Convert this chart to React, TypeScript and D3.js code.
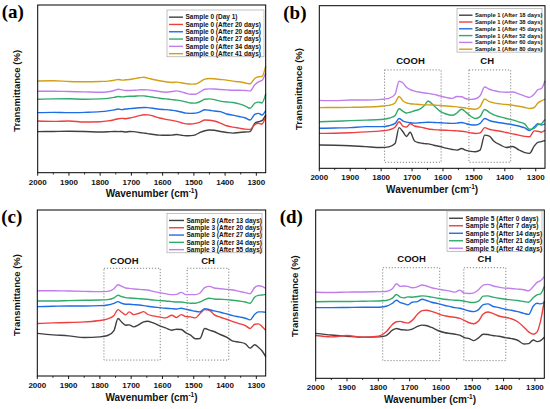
import React from 'react';
import * as d3 from 'd3';

// wavenumber grid shared by every spectrum (cm-1)
const wavenumbers = [
  2000, 1950, 1900, 1850, 1800, 1775, 1755, 1742, 1730, 1718,
  1706, 1692, 1675, 1660, 1648, 1630, 1610, 1590, 1570, 1555,
  1540, 1525, 1510, 1495, 1480, 1465, 1450, 1435, 1415, 1395,
  1375, 1355, 1335, 1320, 1305, 1293, 1282, 1270,
];

// (a) sample 0 - offset transmittance, arbitrary units
const s0Day1 = [24.5, 24.6, 24.7, 24.6, 24.3, 24.4, 24.6, 24.5, 24.6, 24.3, 24.6, 24.5, 24.0, 23.6, 23.3, 22.8, 22.4, 22.3, 22.4, 22.8, 22.3, 22.0, 22.1, 22.6, 24.0, 25.0, 25.5, 25.3, 24.6, 24.0, 23.6, 24.0, 24.3, 24.5, 29.5, 30.4, 31.0, 34.5];
const s0Day20a = [30.8, 30.6, 30.8, 30.2, 30.4, 30.9, 31.6, 32.2, 32.4, 32.2, 32.6, 33.1, 34.0, 34.6, 34.5, 33.8, 32.6, 31.8, 31.2, 30.6, 29.8, 29.1, 29.0, 29.4, 30.2, 31.4, 31.3, 30.8, 29.6, 28.0, 27.2, 26.6, 26.0, 25.8, 28.6, 29.4, 29.0, 33.5];
const s0Day20b = [35.8, 36.0, 35.8, 36.0, 36.4, 36.9, 37.5, 38.0, 37.6, 38.0, 38.2, 38.4, 38.7, 38.9, 38.8, 38.4, 37.8, 37.6, 37.2, 36.8, 36.2, 35.5, 35.4, 35.5, 36.3, 37.5, 37.2, 36.8, 36.4, 35.0, 34.3, 33.5, 32.6, 31.4, 34.8, 35.4, 34.4, 37.0];
const s0Day27 = [43.8, 44.0, 44.1, 43.8, 44.0, 44.3, 44.9, 45.4, 45.2, 45.4, 45.6, 45.6, 45.8, 45.8, 45.5, 45.0, 44.4, 44.0, 43.6, 43.3, 42.8, 42.2, 41.6, 41.5, 42.4, 43.8, 44.0, 43.6, 42.7, 42.2, 41.9, 41.0, 39.7, 38.4, 41.4, 42.1, 41.6, 47.0];
const s0Day34 = [48.6, 48.6, 48.4, 48.2, 48.0, 48.3, 49.0, 49.8, 49.4, 49.0, 49.0, 49.2, 49.4, 49.5, 49.4, 49.0, 48.4, 48.0, 48.4, 48.8, 48.2, 47.4, 46.8, 46.8, 48.2, 49.8, 50.0, 49.9, 49.6, 49.4, 49.2, 49.2, 49.0, 48.8, 52.4, 54.2, 55.0, 59.5];
const s0Day41 = [54.7, 54.8, 54.4, 54.2, 54.4, 54.6, 55.1, 55.6, 55.2, 55.4, 55.6, 56.0, 56.6, 56.9, 56.4, 55.6, 54.8, 54.2, 53.8, 54.0, 53.6, 53.1, 52.8, 52.9, 54.2, 55.8, 56.2, 56.0, 55.6, 55.2, 54.6, 54.2, 53.5, 53.0, 56.2, 57.2, 57.4, 63.5];

// (b) sample 1
const s1Day18 = [14.3, 14.2, 13.9, 13.3, 12.8, 13.2, 15.2, 25.0, 22.6, 19.6, 22.2, 16.8, 15.6, 15.2, 15.0, 14.2, 13.4, 12.4, 11.6, 11.2, 12.2, 11.0, 10.4, 10.2, 11.2, 20.4, 19.8, 16.6, 14.4, 12.8, 13.4, 11.4, 9.6, 9.2, 13.6, 16.0, 16.4, 17.0];
const s1Day38 = [21.5, 21.6, 21.9, 22.4, 23.0, 23.6, 25.2, 28.6, 26.0, 25.4, 27.4, 26.0, 25.4, 24.8, 24.2, 23.8, 23.6, 23.4, 23.2, 23.0, 22.8, 22.4, 21.8, 21.4, 21.8, 25.0, 24.0, 23.4, 22.8, 22.0, 21.2, 20.4, 19.6, 19.4, 23.0, 22.8, 22.2, 23.4];
const s1Day45 = [24.6, 24.8, 25.0, 25.6, 25.6, 26.2, 27.6, 30.6, 29.2, 28.4, 28.0, 27.8, 28.0, 28.2, 28.3, 28.2, 28.0, 27.8, 27.6, 27.8, 28.2, 27.4, 26.8, 26.6, 27.6, 30.6, 29.4, 28.6, 28.0, 27.4, 26.8, 26.0, 24.8, 23.2, 25.4, 27.4, 26.6, 27.4];
const s1Day52 = [28.6, 28.9, 29.3, 29.6, 30.0, 30.8, 32.4, 36.6, 35.2, 34.0, 34.5, 35.4, 36.4, 38.6, 41.4, 38.6, 35.2, 33.4, 32.6, 34.0, 36.3, 34.4, 32.0, 30.6, 31.8, 36.2, 34.4, 32.8, 31.6, 30.6, 29.8, 28.6, 27.2, 24.0, 24.6, 26.8, 27.4, 30.0];
const s1Day60 = [41.8, 41.6, 42.0, 42.0, 42.4, 43.0, 45.5, 53.5, 52.6, 49.8, 48.4, 47.5, 46.8, 46.3, 46.1, 45.5, 44.5, 43.6, 43.0, 44.2, 44.0, 42.8, 42.4, 42.8, 44.6, 50.0, 48.6, 47.8, 47.0, 46.8, 46.9, 45.8, 44.4, 43.6, 45.6, 48.4, 49.0, 53.9];
const s1Day80 = [37.3, 37.4, 37.5, 37.7, 38.2, 38.7, 40.2, 44.2, 41.6, 40.2, 39.7, 39.5, 39.2, 39.0, 39.0, 38.9, 38.6, 38.3, 38.0, 37.8, 37.4, 37.0, 36.6, 36.3, 37.8, 42.6, 41.0, 40.2, 39.6, 39.2, 38.8, 38.2, 37.4, 36.8, 37.4, 40.2, 41.4, 42.6];

// (c) sample 3
const s3Day13 = [25.7, 24.8, 24.2, 23.2, 23.6, 24.4, 27.4, 34.6, 32.4, 30.6, 30.8, 29.6, 31.0, 32.6, 33.0, 32.0, 30.4, 29.0, 27.6, 28.2, 28.0, 26.0, 24.6, 22.4, 22.6, 28.6, 27.6, 26.8, 25.0, 23.4, 21.0, 20.4, 19.4, 16.8, 18.8, 17.2, 15.2, 11.6];
const s3Day20 = [31.6, 32.0, 32.2, 32.6, 33.4, 34.4, 36.4, 40.0, 38.4, 36.8, 38.6, 37.0, 37.8, 38.8, 37.2, 36.2, 35.6, 35.0, 36.6, 35.2, 37.0, 35.8, 35.6, 35.0, 37.6, 40.0, 39.6, 37.0, 35.4, 34.2, 32.8, 31.6, 30.4, 28.6, 31.2, 31.4, 29.8, 27.6];
const s3Day27 = [41.8, 42.0, 42.2, 42.2, 42.4, 42.8, 43.8, 44.8, 43.8, 43.2, 43.2, 43.0, 42.8, 42.4, 42.0, 41.6, 41.2, 40.8, 40.6, 40.4, 40.8, 40.2, 39.6, 39.0, 38.6, 40.6, 40.0, 39.2, 38.4, 37.4, 36.4, 35.6, 34.8, 33.8, 37.2, 38.6, 38.6, 38.4];
const s3Day34 = [45.2, 45.2, 45.4, 45.6, 45.8, 46.0, 47.0, 48.6, 47.8, 47.2, 47.0, 46.8, 46.6, 46.4, 46.2, 45.8, 45.4, 45.2, 44.8, 44.6, 44.6, 44.2, 43.8, 43.8, 44.6, 46.0, 46.8, 46.4, 46.2, 46.0, 45.6, 45.2, 44.6, 43.8, 47.6, 48.6, 48.8, 49.2];
const s3Day55 = [51.4, 51.4, 51.2, 51.0, 50.8, 51.0, 52.6, 55.0, 54.0, 53.0, 52.8, 52.4, 52.2, 52.0, 51.8, 51.0, 50.2, 49.6, 49.0, 49.2, 50.4, 49.0, 49.0, 49.0, 50.0, 53.2, 54.0, 53.0, 52.6, 52.2, 51.8, 51.0, 50.2, 49.6, 53.4, 54.4, 54.0, 52.8];

// (d) sample 5
const s5Day0 = [26.7, 25.7, 25.0, 24.4, 24.6, 25.4, 28.6, 29.6, 29.0, 28.8, 28.6, 29.2, 30.8, 31.6, 31.4, 30.2, 28.4, 27.2, 26.6, 26.2, 25.6, 24.2, 23.6, 22.4, 24.0, 26.2, 26.0, 25.4, 25.0, 24.2, 23.6, 22.6, 20.4, 20.6, 22.8, 21.8, 22.4, 24.4];
const s5Day7 = [25.4, 24.6, 25.4, 24.4, 25.0, 27.6, 32.0, 33.6, 33.8, 33.2, 32.8, 34.4, 38.0, 40.2, 40.4, 39.8, 38.4, 37.2, 36.6, 36.2, 35.6, 34.4, 33.0, 32.4, 34.0, 38.2, 39.4, 38.6, 37.0, 36.2, 35.4, 33.6, 30.4, 27.6, 26.2, 27.6, 34.0, 46.0];
const s5Day14 = [42.0, 42.0, 42.1, 42.2, 42.2, 42.8, 44.6, 46.4, 45.0, 44.4, 43.6, 45.2, 45.6, 47.0, 46.4, 45.2, 44.4, 43.4, 42.6, 42.0, 41.6, 40.8, 40.0, 39.6, 40.8, 43.8, 44.2, 42.8, 42.0, 41.0, 40.4, 39.6, 38.6, 38.0, 43.0, 44.6, 44.2, 45.2];
const s5Day21 = [45.5, 45.6, 45.6, 45.8, 45.9, 46.2, 47.6, 49.8, 48.2, 47.8, 48.4, 48.2, 48.6, 49.0, 48.8, 48.2, 47.6, 47.0, 46.6, 46.4, 46.2, 45.8, 45.2, 45.0, 45.8, 48.8, 49.0, 48.2, 47.6, 47.0, 46.6, 46.2, 45.6, 45.2, 48.0, 49.6, 50.2, 54.5];
const s5Day42 = [51.1, 51.0, 51.2, 51.3, 51.5, 51.6, 53.2, 56.2, 54.6, 54.8, 54.6, 53.8, 54.4, 55.4, 55.0, 53.8, 53.0, 52.4, 51.8, 51.2, 52.4, 50.6, 50.4, 50.8, 52.6, 55.4, 55.8, 55.0, 54.2, 53.6, 53.4, 53.0, 52.6, 52.0, 54.6, 57.0, 58.0, 60.4];

const namesA = ['Sample 0 (Day 1)', 'Sample 0 (After 20 days)', 'Sample 0 (After 20 days)', 'Sample 0 (After 27 days)', 'Sample 0 (After 34 days)', 'Sample 0 (After 41 days)'];
const namesB = ['Sample 1 (After 18 days)', 'Sample 1 (After 38 days)', 'Sample 1 (After 45 days)', 'Sample 1 (After 52 days)', 'Sample 1 (After 60 days)', 'Sample 1 (After 80 days)'];
const namesC = ['Sample 3 (After 13 days)', 'Sample 3 (After 20 days)', 'Sample 3 (After 27 days)', 'Sample 3 (After 34 days)', 'Sample 3 (After 55 days)'];
const namesD = ['Sample 5 (After 0 days)', 'Sample 5 (After 7 days)', 'Sample 5 (After 14 days)', 'Sample 5 (After 21 days)', 'Sample 5 (After 42 days)'];

const majorTicks = [2000, 1900, 1800, 1700, 1600, 1500, 1400, 1300];
const minorTicks = [1950, 1850, 1750, 1650, 1550, 1450, 1350];
const colors = ['#404040', '#ee3f3f', '#1f6de2', '#30ab6b', '#c07eec', '#d2a016'];

const SANS = '"Liberation Sans", Arial, sans-serif';

interface Frame { left: number; top: number; right: number; bottom: number }
interface Legend { x: number; y: number; w: number; row: number; font: number; line: number }
interface Region { from: number; to: number; lo: number; hi: number; text: string; at: number; tv: number }

function Panel(props: {
  tag: string;
  frame: Frame;
  series: number[][];
  names: string[];
  legend: Legend;
  regions?: Region[];
}) {
  const {tag, frame, series, names, legend, regions = []} = props;
  const x = d3.scaleLinear().domain([2000, 1270]).range([frame.left, frame.right]);
  const y = d3.scaleLinear().domain([0, 100]).range([frame.bottom, frame.top]);
  const line = d3.line<number>()
    .x((_, i) => x(wavenumbers[i]))
    .y(d => y(d))
    .curve(d3.curveMonotoneX);
  const cx = (frame.left + frame.right) / 2;
  const cy = (frame.top + frame.bottom) / 2;
  const legendH = legend.row * names.length + 3;

  return (
    <g>
      <text x={frame.left - 36} y={frame.top + 13} fontFamily='"Liberation Serif", "Times New Roman", serif'
        fontWeight="bold" fontSize={19}>{tag}</text>

      {regions.map(r => (
        <g key={r.text}>
          <rect x={x(r.from)} y={y(r.hi)} width={x(r.to) - x(r.from)} height={y(r.lo) - y(r.hi)}
            fill="none" stroke="#777" strokeWidth={0.9} strokeDasharray="1.2 1.8" />
          <text x={x(r.at)} y={y(r.tv)} textAnchor="middle" fontFamily={SANS} fontWeight="bold"
            fontSize={9.5} fill="#111">{r.text}</text>
        </g>
      ))}

      {series.map((s, i) => (
        <path key={i} d={line(s) ?? ''} fill="none" stroke={colors[i]} strokeWidth={1.4} />
      ))}

      <rect x={frame.left} y={frame.top} width={frame.right - frame.left} height={frame.bottom - frame.top}
        fill="none" stroke="#000" strokeWidth={1} />

      {majorTicks.map(t => (
        <g key={t}>
          <line x1={x(t)} x2={x(t)} y1={frame.bottom} y2={frame.bottom + 3} stroke="#000" strokeWidth={0.9} />
          <text x={x(t)} y={frame.bottom + 11.8} textAnchor="middle" fontFamily={SANS} fontWeight="bold"
            fontSize={8} fill="#111">{t}</text>
        </g>
      ))}
      {minorTicks.map(t => (
        <line key={t} x1={x(t)} x2={x(t)} y1={frame.bottom} y2={frame.bottom + 1.8} stroke="#000" strokeWidth={0.8} />
      ))}

      <text x={cx} y={frame.bottom + 24.5} textAnchor="middle" fontFamily={SANS} fontWeight="bold"
        fontSize={10} fill="#111">
        Wavenumber (cm<tspan dy={-4} fontSize={6.5}>-1</tspan><tspan dy={4}>)</tspan>
      </text>
      <text transform={`translate(${frame.left - 17.5},${cy + 2}) rotate(-90)`} textAnchor="middle"
        fontFamily={SANS} fontWeight="bold" fontSize={9.5} fill="#111">Transmittance (%)</text>

      <rect x={legend.x} y={legend.y} width={legend.w} height={legendH} fill="#fff" stroke="#999" strokeWidth={0.6} />
      {names.map((n, i) => {
        const ry = legend.y + 3.5 + legend.row * (i + 0.5);
        return (
          <g key={i}>
            <line x1={legend.x + 2} x2={legend.x + 2 + legend.line} y1={ry} y2={ry} stroke={colors[i]} strokeWidth={1.4} />
            <text x={legend.x + legend.line + 4.5} y={ry + legend.font * 0.36} fontFamily={SANS} fontWeight="bold"
              fontSize={legend.font} fill="#111">{n}</text>
          </g>
        );
      })}
    </g>
  );
}

export default function App() {
  return (
    <svg width={550} height={409} style={{position: 'absolute', left: 0, top: 0, background: '#fff'}}>
      <Panel tag="(a)" frame={{left: 37.7, top: 5, right: 265.7, bottom: 172.7}}
        series={[s0Day1, s0Day20a, s0Day20b, s0Day27, s0Day34, s0Day41]} names={namesA}
        legend={{x: 167, y: 10, w: 97, row: 7.3, font: 6.5, line: 14}} />
      <Panel tag="(b)" frame={{left: 319.3, top: 5.7, right: 545, bottom: 168.3}}
        series={[s1Day18, s1Day38, s1Day45, s1Day52, s1Day60, s1Day80]} names={namesB}
        legend={{x: 457, y: 8.3, w: 85, row: 6.8, font: 5.8, line: 13.5}}
        regions={[
          {from: 1789, to: 1606, lo: 3.7, hi: 60.5, text: 'COOH', at: 1705, tv: 64},
          {from: 1516, to: 1381, lo: 3.7, hi: 60.5, text: 'CH', at: 1457, tv: 64},
        ]} />
      <Panel tag="(c)" frame={{left: 37.3, top: 210, right: 265.7, bottom: 376}}
        series={[s3Day13, s3Day20, s3Day27, s3Day34, s3Day55]} names={namesC}
        legend={{x: 167, y: 213.3, w: 95, row: 7.3, font: 6.5, line: 15}}
        regions={[
          {from: 1787, to: 1607, lo: 9.6, hi: 64.9, text: 'COOH', at: 1722, tv: 67.3},
          {from: 1521, to: 1388, lo: 9.6, hi: 64.9, text: 'CH', at: 1454, tv: 67.3},
        ]} />
      <Panel tag="(d)" frame={{left: 315.7, top: 210, right: 544.3, bottom: 378.3}}
        series={[s5Day0, s5Day7, s5Day14, s5Day21, s5Day42]} names={namesD}
        legend={{x: 447, y: 211, w: 95, row: 7.5, font: 6.6, line: 14}}
        regions={[
          {from: 1786, to: 1604, lo: 10.5, hi: 65.7, text: 'COOH', at: 1694, tv: 69.3},
          {from: 1527, to: 1393, lo: 10.5, hi: 65.7, text: 'CH', at: 1461, tv: 69.3},
        ]} />
    </svg>
  );
}
